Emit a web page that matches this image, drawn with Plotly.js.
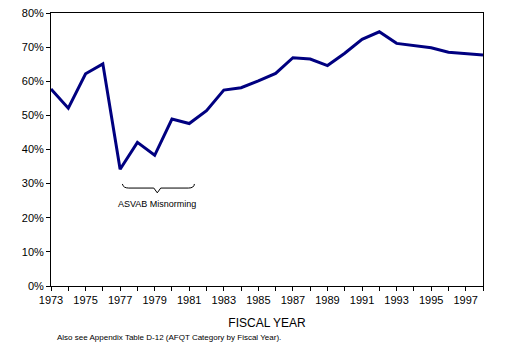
<!DOCTYPE html>
<html>
<head>
<meta charset="utf-8">
<script src="https://cdn.plot.ly/plotly-3.0.1.min.js"></script>
<style>html,body{margin:0;padding:0;background:#fff;}#chart{width:510px;height:345px;}</style>
</head>
<body>
<div id="chart"></div>
<script>
const years = [1973,1974,1975,1976,1977,1978,1979,1980,1981,1982,1983,1984,1985,1986,1987,1988,1989,1990,1991,1992,1993,1994,1995,1996,1997,1998];
const values = [0.577,0.521,0.622,0.651,0.342,0.421,0.383,0.489,0.476,0.514,0.574,0.581,0.601,0.623,0.669,0.665,0.646,0.682,0.723,0.745,0.711,0.705,0.698,0.685,0.682,0.677];
const tickYears = years;
const tickLabels = years.map(y => (y % 2 === 1 ? String(y) : ''));
const annotationText = 'ASVAB Misnorming';
const xTitle = 'FISCAL YEAR';
const noteText = 'Also see Appendix Table D-12 (AFQT Category by Fiscal Year).';

const trace = {
  x: years, y: values, type: 'scatter', mode: 'lines',
  line: {color: '#000080', width: 3}, hoverinfo: 'skip'
};

const layout = {
  width: 510, height: 345,
  margin: {l: 51, r: 27, t: 13, b: 59},
  paper_bgcolor: '#fff', plot_bgcolor: '#fff',
  showlegend: false,
  font: {family: 'Arial, "Liberation Sans", sans-serif', color: '#000', size: 11},
  xaxis: {
    range: [1973, 1998], tickmode: 'array', tickvals: tickYears, ticktext: tickLabels,
    ticks: 'outside', ticklen: 4, tickcolor: '#000', tickwidth: 1,
    showline: true, linecolor: '#000', linewidth: 1, mirror: true,
    showgrid: false, zeroline: false,
    tickfont: {size: 11},
    title: {text: xTitle, font: {size: 12}, standoff: 13}
  },
  yaxis: {
    range: [0, 0.8], dtick: 0.1, tickformat: '.0%',
    ticks: 'outside', ticklen: 4, tickcolor: '#000', tickwidth: 1,
    showline: true, linecolor: '#000', linewidth: 1, mirror: true,
    showgrid: false, zeroline: false, tickfont: {size: 11}
  },
  shapes: [{
    type: 'path', xref: 'x', yref: 'y',
    path: 'M 1977.13,0.299 Q 1977.18,0.287 1977.5,0.287 L 1978.95,0.287 L 1979.15,0.273 L 1979.35,0.287 L 1980.95,0.287 Q 1981.28,0.287 1981.3,0.299',
    line: {color: '#000', width: 1}
  }],
  annotations: [
    {x: 1979.15, y: 0.24, xref: 'x', yref: 'y', text: annotationText, showarrow: false,
     font: {size: 9}},
    {x: 0.01, y: -0.187, xref: 'paper', yref: 'paper', xanchor: 'left', yanchor: 'middle',
     text: noteText, showarrow: false, font: {size: 8}}
  ]
};

Plotly.newPlot('chart', [trace], layout, {staticPlot: true, displayModeBar: false});
</script>
</body>
</html>
